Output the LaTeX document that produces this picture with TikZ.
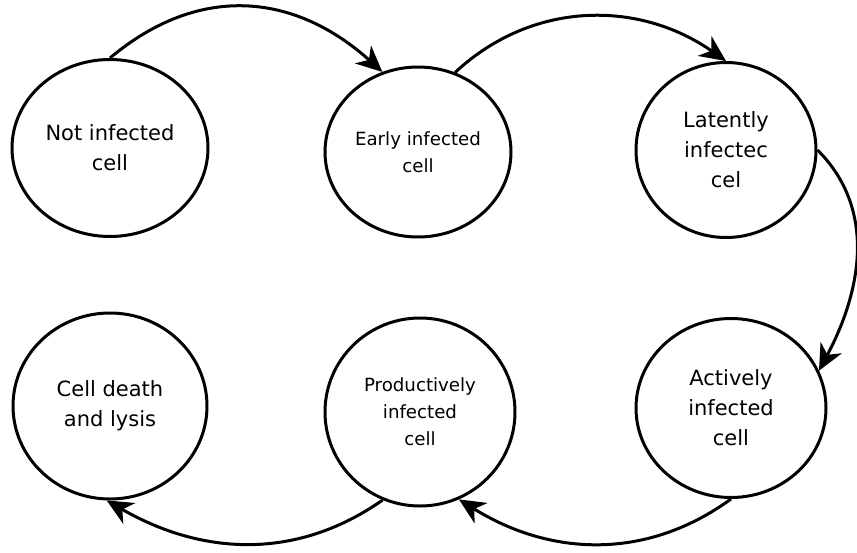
\documentclass[tikz,border=0pt]{standalone}
\usepackage{fontspec}
\setmainfont{DejaVu Sans}
\usetikzlibrary{shapes.geometric,arrows.meta}

\begin{document}
\begin{tikzpicture}[x=0.5pt, y=-0.5pt,
        cell/.style={draw, ellipse, line width=1.5pt, align=center, inner sep=0pt},
        bigtext/.style={font=\fontsize{10.5}{15}\selectfont},
        smalltext/.style={font=\fontsize{9.1}{13.5}\selectfont},
        step arrow/.style={-{Stealth[length=13pt,width=12pt,inset=4pt]}, line width=1.5pt}]
        \useasboundingbox (0,0) rectangle (857,552);

        % top row
        \node (N) [cell, bigtext, minimum width=98pt, minimum height=88.5pt] at (110,148) {Not infected \\ cell};
        \node (E) [cell, smalltext, minimum width=93pt, minimum height=85pt] at (418,152) {Early infected \\ cell};
        \node (L) [cell, bigtext, minimum width=90pt, minimum height=87.5pt] at (726,150) {Latently \\ infectec \\ cel};

        % bottom row
        \node (D) [cell, bigtext, minimum width=97pt, minimum height=93pt] at (110,406) {Cell death \\ and lysis};
        \node (P) [cell, smalltext, minimum width=95pt, minimum height=94pt] at (420,412) {Productively \\ infected \\ cell};
        \node (A) [cell, bigtext, minimum width=95pt, minimum height=89.5pt] at (731,408) {Actively \\ infected \\ cell};

        \draw[step arrow] (N.north) to[out=40, in=138, looseness=1.1] (E.114);
        \draw[step arrow] (E.65) to[out=43, in=145] (L.north);
        \draw[step arrow] (L.east) to[out=-45, in=62] (A.23);
        \draw[step arrow] (A.south) to[out=216, in=328] (P.294);
        \draw[step arrow] (P.247) to[out=215, in=330] (D.268);
    \end{tikzpicture}
\end{document}
